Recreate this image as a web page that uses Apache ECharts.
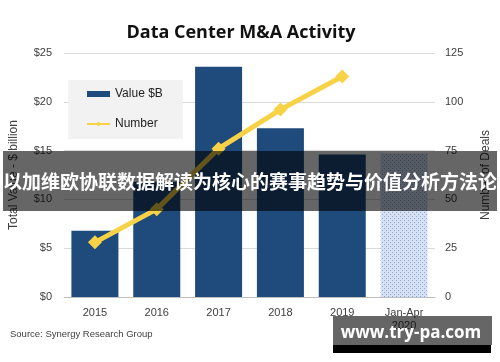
<!DOCTYPE html>
<html>
<head>
<meta charset="utf-8">
<script src="https://cdn.jsdelivr.net/npm/echarts@6/dist/echarts.min.js"></script>
<style>html,body{margin:0;padding:0;background:#fff}#c{width:500px;height:362px}</style>
</head>
<body>
<div id="c"></div>
<script>
var categories = ['2015', '2016', '2017', '2018', '2019', 'Jan-Apr\n2020'];
var valueB = [6.8, 11.8, 23.6, 17.3, 14.6, 14.7];
var dealCount = [28, 45, 76, 96, 113, null];
var leftTicks = [0, 5, 10, 15, 20, 25];
var rightTicks = [0, 25, 50, 75, 100, 125];

var pc = document.createElement('canvas');
pc.width = 4; pc.height = 4;
var px = pc.getContext('2d');
px.fillStyle = '#d6e2f4'; px.fillRect(0, 0, 4, 4);
px.fillStyle = '#8ea9d8';
px.fillRect(0, 0, 1, 1); px.fillRect(2, 2, 1, 1);

var barData = valueB.map(function (v, i) {
  if (i === valueB.length - 1) {
    return { value: v, itemStyle: { color: { image: pc, repeat: 'repeat' } } };
  }
  return v;
});

var chart = echarts.init(document.getElementById('c'));
var lbl = { color: '#404040', fontSize: 11, fontFamily: 'Liberation Sans, Arial, sans-serif' };
chart.setOption({
  animation: false,
  title: {
    text: 'Data Center M&A Activity', left: 236, top: 19, textAlign: 'center',
    textStyle: { fontSize: 18, fontWeight: 'bold', color: '#111', fontFamily: 'Open Sans, sans-serif' }
  },
  legend: {
    orient: 'vertical', left: 68, top: 80,
    backgroundColor: '#f2f2f2', padding: [8, 20, 9, 18], itemGap: 18,
    itemWidth: 23, itemHeight: 6,
    textStyle: { fontSize: 12, color: '#222', fontFamily: 'Liberation Sans, Arial, sans-serif' },
    data: [{ name: 'Value $B', icon: 'rect' }, { name: 'Number' }]
  },
  grid: { left: 62, right: 62, top: 53, bottom: 65 },
  xAxis: {
    type: 'category', data: categories,
    axisLine: { lineStyle: { color: '#bfbfbf' } }, axisTick: { show: false },
    axisLabel: Object.assign({ margin: 9, lineHeight: 13 }, lbl)
  },
  yAxis: [{
    type: 'value', min: leftTicks[0], max: leftTicks[leftTicks.length - 1], interval: 5,
    name: 'Total Value - $ billion', nameLocation: 'middle', nameGap: 44,
    nameTextStyle: { fontSize: 12, color: '#404040', fontFamily: 'Liberation Sans, Arial, sans-serif' },
    axisLabel: Object.assign({ margin: 12, formatter: function (v) { return '$' + v; } }, lbl),
    axisLine: { show: false }, axisTick: { show: false },
    splitLine: { lineStyle: { color: '#d9d9d9' } }
  }, {
    type: 'value', min: rightTicks[0], max: rightTicks[rightTicks.length - 1], interval: 25,
    name: 'Number of Deals', nameLocation: 'middle', nameGap: 45, nameRotate: 90,
    nameTextStyle: { fontSize: 12, color: '#404040', fontFamily: 'Liberation Sans, Arial, sans-serif' },
    axisLabel: Object.assign({ margin: 10 }, lbl),
    axisLine: { show: false }, axisTick: { show: false }, splitLine: { show: false }
  }],
  series: [{
    name: 'Value $B', type: 'bar', data: barData, barWidth: 47,
    itemStyle: { color: '#1f4a7c' }
  }, {
    name: 'Number', type: 'line', yAxisIndex: 1, data: dealCount,
    symbol: 'diamond', symbolSize: 14,
    lineStyle: { color: '#f8d246', width: 5 },
    itemStyle: { color: '#f8d246' }
  }],
  graphic: [
    { type: 'text', left: 10, top: 329, z: 10,
      style: { text: 'Source: Synergy Research Group', fontSize: 9.5, fill: '#404040', fontFamily: 'Liberation Sans, Arial, sans-serif' } },
    { type: 'rect', shape: { x: 3, y: 151, width: 494, height: 60 }, z: 100,
      style: { fill: 'rgba(0,0,0,0.6)' } },
    { type: 'text', x: 250, y: 182, z: 101,
      style: { text: '以加维欧协联数据解读为核心的赛事趋势与价值分析方法论', fontSize: 19, fontWeight: 'bold',
        fill: '#fff', align: 'center', verticalAlign: 'middle', fontFamily: 'Noto Sans CJK SC, sans-serif' } },
    { type: 'rect', shape: { x: 333, y: 316, width: 159, height: 29 }, z: 100,
      style: { fill: 'rgba(0,0,0,0.6)' } },
    { type: 'rect', shape: { x: 333, y: 345, width: 158, height: 8 }, z: 100,
      style: { fill: '#000' } },
    { type: 'text', x: 411, y: 333, z: 101,
      style: { text: 'www.try-pa.com', fontSize: 17, fontWeight: 'bold', fill: '#fff',
        align: 'center', verticalAlign: 'middle', fontFamily: 'Open Sans, sans-serif' } }
  ]
});
</script>
</body>
</html>
